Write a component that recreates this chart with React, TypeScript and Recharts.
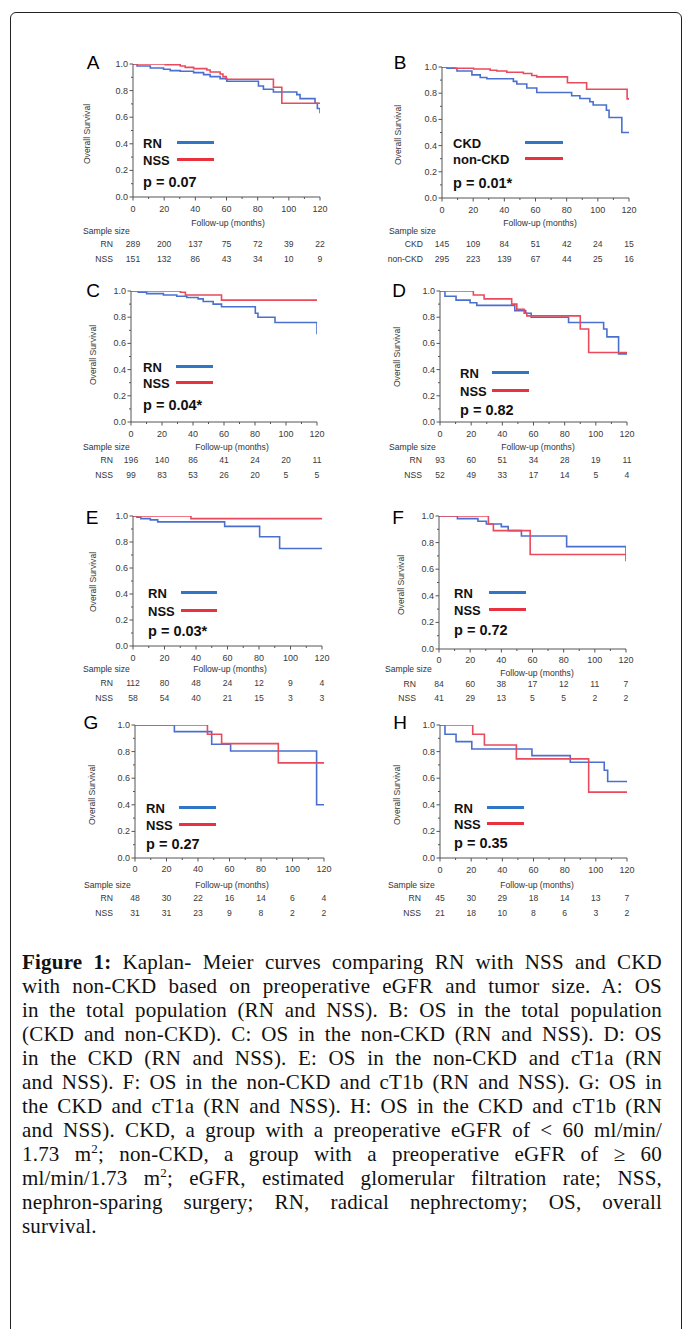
import React from 'react';
import { LineChart, Line, XAxis, YAxis } from 'recharts';

type Pt = [number, number];

const MONTH_TICKS = [0, 10, 20, 30, 40, 50, 60, 70, 80, 90, 100, 110, 120];
const SURV_TICKS = [0, 0.1, 0.2, 0.3, 0.4, 0.5, 0.6, 0.7, 0.8, 0.9, 1];

// A: total population, RN vs NSS
const A_RN: Pt[] = [[0, 1], [2.6, 0.985], [11.1, 0.97], [19.6, 0.96], [23.9, 0.95], [30.3, 0.945], [38.9, 0.935], [45.3, 0.92], [49.5, 0.905], [55.9, 0.89], [60.2, 0.87], [80.5, 0.835], [83.7, 0.81], [90.1, 0.79], [105.1, 0.77], [107.2, 0.74], [116.8, 0.705], [118.3, 0.665], [120, 0.63]];
const A_NSS: Pt[] = [[0, 1], [20.7, 0.995], [30.3, 0.985], [33.5, 0.975], [38.9, 0.965], [47.4, 0.955], [49.5, 0.94], [55.9, 0.925], [57.7, 0.905], [59.8, 0.885], [90.1, 0.825], [95.5, 0.705], [120, 0.705]];
const A_RN_N = [289, 200, 137, 75, 72, 39, 22];
const A_NSS_N = [151, 132, 86, 43, 34, 10, 9];

// B: total population, CKD vs non-CKD
const B_CKD: Pt[] = [[0, 1], [3.2, 0.99], [9.6, 0.97], [19.2, 0.94], [24.5, 0.92], [28.8, 0.91], [45.8, 0.89], [48, 0.87], [54.4, 0.84], [60.8, 0.805], [83.2, 0.78], [88.5, 0.76], [94.9, 0.735], [97, 0.71], [105.5, 0.67], [107.2, 0.615], [115.4, 0.5], [120, 0.5]];
const B_NON: Pt[] = [[0, 1], [8, 0.99], [20.3, 0.985], [30.9, 0.975], [35.2, 0.97], [41.6, 0.96], [52.2, 0.95], [57.6, 0.935], [60.8, 0.925], [80.5, 0.88], [92.8, 0.83], [118.8, 0.757], [120, 0.757]];
const B_CKD_N = [145, 109, 84, 51, 42, 24, 15];
const B_NON_N = [295, 223, 139, 67, 44, 25, 16];

// C: non-CKD
const C_RN: Pt[] = [[0, 1], [4.7, 0.99], [10.1, 0.98], [20.9, 0.97], [29.5, 0.96], [36, 0.95], [43.3, 0.94], [46.6, 0.92], [53, 0.9], [58.4, 0.88], [80.2, 0.83], [81.9, 0.8], [92.9, 0.76], [120, 0.67]];
const C_NSS: Pt[] = [[0, 1], [31.9, 0.99], [35.1, 0.97], [58.4, 0.93], [120, 0.93]];
const C_RN_N = [196, 140, 86, 41, 24, 20, 11];
const C_NSS_N = [99, 83, 53, 26, 20, 5, 5];

// D: CKD
const D_RN: Pt[] = [[0, 1], [3.2, 0.96], [10.3, 0.93], [19.3, 0.91], [23.6, 0.89], [48, 0.85], [55, 0.83], [58.5, 0.8], [82.5, 0.76], [105, 0.71], [107.1, 0.65], [114.6, 0.52], [120, 0.52]];
const D_NSS: Pt[] = [[0, 1], [21.4, 0.97], [28.3, 0.94], [46, 0.9], [49.3, 0.86], [54, 0.83], [55.7, 0.81], [90, 0.71], [95.4, 0.53], [120, 0.53]];
const D_RN_N = [93, 60, 51, 34, 28, 19, 11];
const D_NSS_N = [52, 49, 33, 17, 14, 5, 4];

// E: non-CKD, cT1a
const E_RN: Pt[] = [[0, 1], [2.5, 0.99], [5, 0.98], [11, 0.97], [15.7, 0.955], [58.2, 0.92], [80.4, 0.84], [93.1, 0.75], [120, 0.75]];
const E_NSS: Pt[] = [[0, 1], [36.8, 0.98], [120, 0.98]];
const E_RN_N = [112, 80, 48, 24, 12, 9, 4];
const E_NSS_N = [58, 54, 40, 21, 15, 3, 3];

// F: non-CKD, cT1b
const F_RN: Pt[] = [[0, 1], [11.8, 0.98], [25, 0.96], [30.4, 0.94], [40, 0.92], [44.4, 0.89], [52.9, 0.85], [81.9, 0.77], [120, 0.66]];
const F_NSS: Pt[] = [[0, 1], [31.7, 0.94], [34.9, 0.89], [58.5, 0.71], [120, 0.71]];
const F_RN_N = [84, 60, 38, 17, 12, 11, 7];
const F_NSS_N = [41, 29, 13, 5, 5, 2, 2];

// G: CKD, cT1a
const G_RN: Pt[] = [[0, 1], [25, 0.95], [48.7, 0.855], [60.7, 0.805], [115.3, 0.4], [120, 0.4]];
const G_NSS: Pt[] = [[0, 1], [46, 0.93], [55, 0.86], [91, 0.715], [120, 0.715]];
const G_RN_N = [48, 30, 22, 16, 14, 6, 4];
const G_NSS_N = [31, 31, 23, 9, 8, 2, 2];

// H: CKD, cT1b
const H_RN: Pt[] = [[0, 1], [3.2, 0.93], [10.3, 0.875], [20.4, 0.82], [59, 0.77], [83.6, 0.72], [105.4, 0.66], [107.6, 0.575], [120, 0.575]];
const H_NSS: Pt[] = [[0, 1], [21, 0.93], [28.5, 0.85], [49, 0.745], [95.4, 0.495], [120, 0.495]];
const H_RN_N = [45, 30, 29, 18, 14, 13, 7];
const H_NSS_N = [21, 18, 10, 8, 6, 3, 2];

const BLUE = '#4a70cf';
const RED = '#e94a5c';
const BLUE_KEY = '#2f76c7';
const RED_KEY = '#e8323f';
const AXIS = '#555';
const SANS = '"Liberation Sans", Arial, sans-serif';

interface Box {
  x0: number; x1: number; yT: number; yB: number;
  tickY: number; followX: number; followY: number;
  sampleX: number; sampleY: number; rowR: number; rnY: number; nssY: number;
  letterX: number; letterY: number; titleX: number; titleY: number;
  keyX: number; keyRnY: number; keyNssY: number; lineX0: number; lineX1: number; pY: number;
}

interface Spec {
  letter: string;
  names: [string, string];
  curves: [Pt[], Pt[]];
  counts: [number[], number[]];
  p: string;
  box: Box;
}

const PANELS: Spec[] = [
  {
    letter: 'A', names: ['RN', 'NSS'], curves: [A_RN, A_NSS], counts: [A_RN_N, A_NSS_N], p: 'p = 0.07',
    box: { x0: 133, x1: 320, yT: 64, yB: 197, tickY: 209, followX: 228, followY: 223, sampleX: 83, sampleY: 231, rowR: 113, rnY: 244, nssY: 259, letterX: 93, letterY: 62, titleX: 87, titleY: 134, keyX: 143, keyRnY: 143, keyNssY: 160, lineX0: 177, lineX1: 214, pY: 182 },
  },
  {
    letter: 'B', names: ['CKD', 'non-CKD'], curves: [B_CKD, B_NON], counts: [B_CKD_N, B_NON_N], p: 'p = 0.01*',
    box: { x0: 442, x1: 629, yT: 67, yB: 198, tickY: 210, followX: 540, followY: 223, sampleX: 389, sampleY: 231, rowR: 423, rnY: 244, nssY: 259, letterX: 400, letterY: 62, titleX: 398, titleY: 135, keyX: 453, keyRnY: 143, keyNssY: 159, lineX0: 525, lineX1: 563, pY: 183 },
  },
  {
    letter: 'C', names: ['RN', 'NSS'], curves: [C_RN, C_NSS], counts: [C_RN_N, C_NSS_N], p: 'p = 0.04*',
    box: { x0: 131, x1: 317, yT: 291, yB: 422, tickY: 434, followX: 232, followY: 447, sampleX: 83, sampleY: 447, rowR: 113, rnY: 460, nssY: 475, letterX: 93, letterY: 290, titleX: 93, titleY: 355, keyX: 143, keyRnY: 367, keyNssY: 383, lineX0: 176, lineX1: 213, pY: 405 },
  },
  {
    letter: 'D', names: ['RN', 'NSS'], curves: [D_RN, D_NSS], counts: [D_RN_N, D_NSS_N], p: 'p = 0.82',
    box: { x0: 440, x1: 627, yT: 291, yB: 422, tickY: 434, followX: 538, followY: 447, sampleX: 389, sampleY: 447, rowR: 422, rnY: 460, nssY: 475, letterX: 399, letterY: 290, titleX: 397, titleY: 357, keyX: 460, keyRnY: 373, keyNssY: 391, lineX0: 492, lineX1: 529, pY: 410 },
  },
  {
    letter: 'E', names: ['RN', 'NSS'], curves: [E_RN, E_NSS], counts: [E_RN_N, E_NSS_N], p: 'p = 0.03*',
    box: { x0: 133, x1: 322, yT: 516, yB: 646, tickY: 658, followX: 230, followY: 669, sampleX: 83, sampleY: 669, rowR: 113, rnY: 683, nssY: 698, letterX: 92, letterY: 517, titleX: 93, titleY: 582, keyX: 148, keyRnY: 593, keyNssY: 611, lineX0: 181, lineX1: 217, pY: 631 },
  },
  {
    letter: 'F', names: ['RN', 'NSS'], curves: [F_RN, F_NSS], counts: [F_RN_N, F_NSS_N], p: 'p = 0.72',
    box: { x0: 439, x1: 626, yT: 516, yB: 649, tickY: 660, followX: 537, followY: 673, sampleX: 385, sampleY: 669, rowR: 416, rnY: 684, nssY: 698, letterX: 398, letterY: 517, titleX: 401, titleY: 585, keyX: 454, keyRnY: 593, keyNssY: 610, lineX0: 489, lineX1: 526, pY: 630 },
  },
  {
    letter: 'G', names: ['RN', 'NSS'], curves: [G_RN, G_NSS], counts: [G_RN_N, G_NSS_N], p: 'p = 0.27',
    box: { x0: 135, x1: 324, yT: 725, yB: 858, tickY: 869, followX: 232, followY: 885, sampleX: 84, sampleY: 885, rowR: 113, rnY: 898, nssY: 913, letterX: 91, letterY: 722, titleX: 92, titleY: 795, keyX: 146, keyRnY: 808, keyNssY: 825, lineX0: 179, lineX1: 216, pY: 844 },
  },
  {
    letter: 'H', names: ['RN', 'NSS'], curves: [H_RN, H_NSS], counts: [H_RN_N, H_NSS_N], p: 'p = 0.35',
    box: { x0: 440, x1: 627, yT: 725, yB: 858, tickY: 870, followX: 537, followY: 885, sampleX: 388, sampleY: 885, rowR: 421, rnY: 898, nssY: 913, letterX: 400, letterY: 722, titleX: 397, titleY: 795, keyX: 454, keyRnY: 808, keyNssY: 824, lineX0: 487, lineX1: 524, pY: 843 },
  },
];

type Anchor = 'left' | 'center' | 'right';

function T({ x, y, a = 'left', children, style }: { x: number; y: number; a?: Anchor; children: React.ReactNode; style?: React.CSSProperties }) {
  const tx = a === 'left' ? '0' : a === 'center' ? '-50%' : '-100%';
  return (
    <div
      style={{
        position: 'absolute', left: x, top: y, transform: `translate(${tx}, -50%)`,
        whiteSpace: 'nowrap', lineHeight: 1, fontFamily: SANS, fontSize: 8.6, color: '#333', ...style,
      }}
    >
      {children}
    </div>
  );
}

function Panel({ spec }: { spec: Spec }) {
  const b = spec.box;
  const padL = 40;
  const padT = 8;
  const width = b.x1 - b.x0 + padL + 10;
  const height = b.yB - b.yT + padT + 80;

  const xTick = (props: any) => {
    const { x, y, payload } = props;
    const v = payload.value as number;
    const major = v % 20 === 0;
    const i = v / 20;
    const txt = { fontFamily: SANS, fill: '#3a3a3a', dominantBaseline: 'central' as const, textAnchor: 'middle' as const };
    return (
      <g>
        <line x1={x} y1={y} x2={x} y2={y + (major ? 3.5 : 2)} stroke={AXIS} strokeWidth={1} />
        {major && (
          <>
            <text x={x} y={y + b.tickY - b.yB} fontSize={9} {...txt}>{v}</text>
            <text x={x} y={y + b.rnY - b.yB} fontSize={8.6} {...txt}>{spec.counts[0][i]}</text>
            <text x={x} y={y + b.nssY - b.yB} fontSize={8.6} {...txt}>{spec.counts[1][i]}</text>
          </>
        )}
      </g>
    );
  };

  const yTick = (props: any) => {
    const { x, y, payload } = props;
    const v = payload.value as number;
    const major = Math.round(v * 10) % 2 === 0;
    return (
      <g>
        <line x1={x - (major ? 3.5 : 2)} y1={y} x2={x} y2={y} stroke={AXIS} strokeWidth={1} />
        {major && (
          <text x={x - 5} y={y} fontSize={9} fontFamily={SANS} fill="#3a3a3a" dominantBaseline="central" textAnchor="end">
            {v.toFixed(1)}
          </text>
        )}
      </g>
    );
  };

  const toRows = (pts: Pt[]) => pts.map(([t, s]) => ({ t, s }));

  return (
    <>
      <div style={{ position: 'absolute', left: b.x0 - padL, top: b.yT - padT }}>
        <LineChart width={width} height={height} margin={{ top: padT, right: 10, bottom: 0, left: 0 }}>
          <XAxis
            dataKey="t" type="number" domain={[0, 120]} ticks={MONTH_TICKS} interval={0}
            height={80} tickSize={0} tickMargin={0} tickLine={false} tick={xTick}
            axisLine={{ stroke: AXIS, strokeWidth: 1 }} allowDataOverflow
          />
          <YAxis
            type="number" domain={[0, 1]} ticks={SURV_TICKS} interval={0}
            width={padL} tickSize={0} tickMargin={0} tickLine={false} tick={yTick}
            axisLine={{ stroke: AXIS, strokeWidth: 1 }} allowDataOverflow
          />
          <Line data={toRows(spec.curves[0])} dataKey="s" type="stepAfter" stroke={BLUE} strokeWidth={1.6} dot={false} activeDot={false} isAnimationActive={false} />
          <Line data={toRows(spec.curves[1])} dataKey="s" type="stepAfter" stroke={RED} strokeWidth={1.6} dot={false} activeDot={false} isAnimationActive={false} />
        </LineChart>
      </div>

      <T x={b.letterX} y={b.letterY} a="center" style={{ fontSize: 19, color: '#000' }}>{spec.letter}</T>
      <div
        style={{
          position: 'absolute', left: b.titleX, top: b.titleY, transform: 'translate(-50%, -50%) rotate(-90deg)',
          whiteSpace: 'nowrap', lineHeight: 1, fontFamily: SANS, fontSize: 8.6, color: '#333',
        }}
      >
        Overall Survival
      </div>

      <T x={b.keyX} y={b.keyRnY} style={{ fontSize: 13, fontWeight: 700, color: '#111' }}>{spec.names[0]}</T>
      <T x={b.keyX} y={b.keyNssY} style={{ fontSize: 13, fontWeight: 700, color: '#111' }}>{spec.names[1]}</T>
      <div style={{ position: 'absolute', left: b.lineX0, top: b.keyRnY - 2, width: b.lineX1 - b.lineX0, height: 2.6, background: BLUE_KEY }} />
      <div style={{ position: 'absolute', left: b.lineX0, top: b.keyNssY - 2, width: b.lineX1 - b.lineX0, height: 2.6, background: RED_KEY }} />
      <T x={b.keyX} y={b.pY} style={{ fontSize: 14.5, fontWeight: 700, color: '#111' }}>{spec.p}</T>

      <T x={b.followX} y={b.followY} a="center">Follow-up (months)</T>
      <T x={b.sampleX} y={b.sampleY}>Sample size</T>
      <T x={b.rowR} y={b.rnY} a="right">{spec.names[0]}</T>
      <T x={b.rowR} y={b.nssY} a="right">{spec.names[1]}</T>
    </>
  );
}

const SERIF = '"Liberation Serif", "Times New Roman", serif';
const sup = (s: string) => <sup style={{ fontSize: 13, lineHeight: 0, verticalAlign: 'super' }}>{s}</sup>;

const CAPTION: React.ReactNode[] = [
  <><b>Figure 1:</b> Kaplan- Meier curves comparing RN with NSS and CKD</>,
  'with non-CKD based on preoperative eGFR and tumor size. A: OS',
  'in the total population (RN and NSS). B: OS in the total population',
  '(CKD and non-CKD). C: OS in the non-CKD (RN and NSS). D: OS',
  'in the CKD (RN and NSS). E: OS in the non-CKD and cT1a (RN',
  'and NSS). F: OS in the non-CKD and cT1b (RN and NSS). G: OS in',
  'the CKD and cT1a (RN and NSS). H: OS in the CKD and cT1b (RN',
  'and NSS). CKD, a group with a preoperative eGFR of < 60 ml/min/',
  <>1.73 m{sup('2')}; non-CKD, a group with a preoperative eGFR of ≥ 60</>,
  <>ml/min/1.73 m{sup('2')}; eGFR, estimated glomerular filtration rate; NSS,</>,
  'nephron-sparing surgery; RN, radical nephrectomy; OS, overall',
  'survival.',
];

export default function App() {
  return (
    <div style={{ position: 'absolute', left: 0, top: 0, width: 683, height: 1329, overflow: 'hidden', background: '#fff' }}>
      <div
        style={{
          position: 'absolute', left: 10, top: 12, width: 672, height: 1340,
          border: '1.5px solid #222', borderRadius: 6, boxSizing: 'border-box',
        }}
      />
      {PANELS.map((s) => (
        <Panel key={s.letter} spec={s} />
      ))}
      <div style={{ position: 'absolute', left: 22, top: 950, width: 640, fontFamily: SERIF, fontSize: 21, letterSpacing: 0.2, color: '#111' }}>
        {CAPTION.map((line, i) => (
          <div
            key={i}
            style={{
              height: 24, lineHeight: '24px', whiteSpace: 'nowrap', textAlign: 'justify',
              textAlignLast: i === CAPTION.length - 1 ? 'left' : 'justify',
            }}
          >
            {line}
          </div>
        ))}
      </div>
    </div>
  );
}
